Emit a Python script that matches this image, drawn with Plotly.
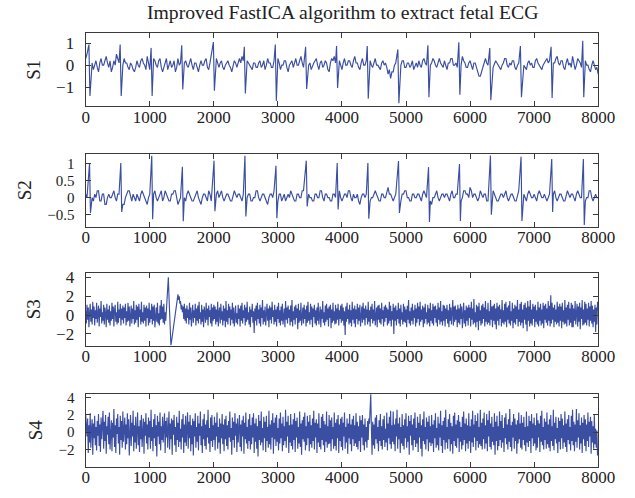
import numpy as np
import plotly.graph_objects as go

title_text = "Improved FastICA algorithm to extract fetal ECG"
x_ticks = [0, 1000, 2000, 3000, 4000, 5000, 6000, 7000, 8000]
labels = ["S1", "S2", "S3", "S4"]

# ---- S1: baseline sampled every 20 samples + QRS complexes ----
s1_base = [
    0.3, 0.5, 0.1, 0.2, 0.4, 0.1, -0.2, 0.0, 0.2, -0.1, -0.3, 0.1, 0.3, 0.0, 0.0, 0.2, 0.4, 0.1, -0.1, 0.2,
    -0.3, -0.1, 0.2, 0.0, 0.5, 0.3, 0.1, 0.4, -0.2, 0.0, 0.3, 0.1, 0.1, -0.1, -0.2, 0.1, 0.0, -0.2, -0.3, -0.1,
    0.2, 0.0, -0.1, 0.2, 0.3, 0.1, 0.0, -0.2, 0.4, 0.1, -0.2, 0.0, 0.5, 0.3, 0.2, 0.0, -0.1, 0.2, 0.3, -0.1,
    -0.3, -0.1, 0.1, 0.3, -0.2, 0.0, 0.2, -0.1, 0.0, 0.2, -0.3, -0.1, 0.3, 0.0, 0.1, 0.3, 0.4, 0.1, 0.2, 0.0,
    -0.1, 0.1, 0.3, 0.0, -0.2, 0.1, 0.1, -0.1, -0.3, 0.0, 0.2, 0.0, 0.0, 0.2, 0.3, -0.1, -0.2, 0.1, 0.4, 0.2,
    0.2, 0.0, 0.3, 0.1, -0.1, 0.1, 0.2, -0.1, -0.2, 0.0, 0.1, 0.2, 0.0, -0.1, -0.3, 0.0, 0.2, 0.1, -0.1, 0.1,
    0.3, 0.1, 0.4, 0.2, -0.2, 0.0, 0.2, 0.1, 0.0, -0.1, -0.2, 0.1, 0.1, -0.1, -0.1, 0.1, 0.2, -0.1, 0.0, 0.2,
    -0.2, 0.0, 0.3, 0.1, 0.1, -0.1, -0.1, 0.2, 0.2, 0.0, 0.3, 0.1, -0.2, 0.0, 0.0, 0.2, 0.2, -0.1, -0.3, 0.0,
    0.1, 0.2, -0.1, 0.1, 0.3, 0.0, 0.0, 0.2, 0.4, 0.1, -0.1, 0.1, 0.2, -0.1, 0.0, 0.1, -0.2, 0.0, 0.1, 0.2,
    0.3, 0.0, -0.2, 0.1, 0.2, -0.1, 0.0, 0.2, 0.1, -0.2, -0.3, 0.1, 0.3, 0.2, 0.4, 0.1, -0.1, 0.1, 0.2, 0.0,
    -0.2, 0.1, 0.3, 0.0, 0.0, 0.2, 0.2, 0.0, -0.1, 0.2, 0.4, 0.1, 0.1, -0.1, -0.2, 0.1, 0.3, 0.0, 0.0, 0.2,
    0.3, 0.1, 0.2, 0.0, -0.1, 0.1, 0.3, 0.0, 0.0, -0.1, -0.2, 0.1, 0.2, 0.0, 0.1, -0.1, -0.4, -0.2, -0.6, -0.3,
    -0.3, 0.0, 0.1, 0.2, 0.3, 0.1, 0.0, 0.2, 0.2, -0.1, -0.1, 0.1, 0.1, -0.1, 0.0, 0.2, -0.2, 0.0, 0.1, -0.1,
    0.2, 0.0, -0.1, 0.2, 0.3, 0.1, 0.0, -0.2, -0.2, 0.0, 0.1, 0.3, 0.2, 0.0, -0.1, 0.1, 0.3, 0.1, 0.0, -0.1,
    0.2, 0.0, -0.2, 0.1, 0.1, 0.3, 0.3, 0.0, 0.0, 0.1, -0.1, 0.2, 0.2, 0.0, 0.4, 0.2, 0.1, -0.1, -0.1, 0.1,
    0.2, 0.0, -0.2, 0.1, 0.1, -0.1, -0.3, -0.5, -0.5, -0.3, -0.2, 0.1, 0.3, 0.1, 0.0, 0.2, 0.4, 0.1, -0.1, 0.1,
    0.2, 0.1, 0.0, -0.1, -0.2, 0.0, 0.1, 0.3, 0.3, 0.0, -0.1, 0.1, 0.0, 0.2, 0.2, -0.1, -0.2, 0.0, 0.1, 0.2,
    0.3, 0.1, 0.0, -0.1, -0.2, 0.1, 0.2, 0.0, 0.1, -0.1, -0.1, 0.2, 0.3, 0.1, 0.0, -0.1, -0.2, 0.0, 0.1, 0.2,
    0.3, 0.1, 0.2, 0.0, -0.1, 0.1, 0.1, 0.3, 0.4, 0.1, 0.0, 0.2, 0.2, -0.1, -0.2, 0.1, 0.3, 0.0, 0.1, -0.1,
    0.4, 0.1, -0.2, 0.0, 0.3, 0.2, 0.1, -0.1, -0.1, 0.1, 0.2, 0.0, 0.0, -0.2, -0.3, 0.0, 0.2, 0.0, -0.2, -0.1,
    -0.4,
]
beat_pos = [60, 548, 1031, 1509, 2003, 2486, 2970, 3443, 3926,
            4405, 4883, 5352, 5835, 6318, 6796, 7275, 7769]
s1_peak_up = [0.93, 0.93, 0.78, 0.90, 1.04, 0.83, 0.93, 0.83, 0.86,
              0.86, 0.71, 0.90, 1.03, 0.77, 0.86, 0.83, 1.10]
s1_peak_down = [-1.39, -1.39, -1.39, -1.10, -1.15, -1.28, -1.62, -1.07, -1.03,
                -1.51, -1.72, -1.45, -1.33, -1.58, -1.45, -1.48, -1.45]

# ---- S2: baseline every 20 samples + fetal R peaks ----
s2_base = [
    0.1, 0.0, -0.2, 0.1, 0.2, 0.0, -0.1, 0.1, 0.0, 0.2, 0.2, -0.1, -0.1, 0.1, 0.1, -0.2, -0.2, 0.0, 0.1, 0.0,
    0.0, 0.1, 0.2, 0.0, -0.1, 0.1, 0.1, 0.0, 0.0, -0.2, -0.2, 0.0, 0.1, 0.2, 0.2, 0.0, -0.1, 0.1, 0.0, -0.1,
    0.1, 0.0, -0.1, 0.1, 0.2, 0.1, 0.0, -0.1, -0.2, 0.0, 0.1, 0.0, 0.0, 0.1, 0.2, 0.0, -0.1, 0.0, 0.1, 0.2,
    -0.1, 0.0, 0.2, 0.1, 0.0, -0.1, -0.1, 0.1, 0.1, 0.2, 0.2, 0.0, -0.2, -0.1, 0.0, 0.1, 0.1, 0.0, -0.1, 0.1,
    0.2, 0.1, 0.0, -0.1, -0.1, 0.0, 0.1, 0.2, 0.0, -0.1, -0.2, 0.0, 0.1, 0.1, 0.0, -0.1, 0.2, 0.1, -0.1, 0.0,
    -0.2, 0.0, 0.1, 0.2, 0.0, 0.1, 0.2, 0.0, -0.1, 0.0, 0.1, 0.1, 0.0, -0.1, -0.1, 0.1, 0.2, 0.1, 0.0, 0.1,
    0.1, 0.0, -0.1, 0.1, 0.2, 0.0, 0.0, 0.1, 0.1, -0.1, -0.1, 0.0, 0.0, 0.2, 0.2, 0.0, -0.1, 0.0, 0.1, 0.1,
    0.0, -0.1, -0.2, 0.0, 0.1, 0.1, 0.0, 0.2, 0.2, 0.0, -0.1, 0.1, 0.1, -0.1, 0.0, 0.1, -0.1, 0.0, 0.1, 0.0,
    0.2, 0.1, 0.0, -0.1, -0.1, 0.1, 0.1, 0.0, 0.0, 0.2, 0.2, -0.1, -0.2, 0.0, 0.1, 0.0, 0.0, -0.1, -0.1, 0.1,
    0.1, 0.0, 0.0, 0.2, 0.2, 0.0, -0.1, 0.1, 0.1, 0.0, 0.0, -0.1, -0.1, 0.1, 0.1, 0.0, 0.0, 0.1, 0.2, 0.0,
    -0.1, 0.0, 0.1, 0.1, 0.0, 0.2, 0.2, 0.0, -0.1, 0.1, 0.0, 0.0, 0.1, -0.1, -0.2, 0.0, 0.1, 0.1, 0.0, 0.1,
    0.1, 0.0, -0.1, 0.0, 0.0, 0.1, 0.2, 0.1, 0.0, -0.1, -0.1, 0.1, 0.1, 0.0, 0.0, 0.2, 0.3, 0.1, 0.1, 0.0,
    -0.1, 0.0, 0.1, 0.1, 0.0, -0.1, -0.1, 0.1, 0.1, 0.2, 0.2, 0.0, 0.0, -0.1, -0.1, 0.1, 0.1, 0.0, 0.0, 0.1,
    0.1, 0.0, -0.1, 0.1, 0.2, 0.1, 0.0, 0.1, 0.1, -0.1, -0.2, 0.0, 0.0, 0.1, 0.2, 0.0, -0.1, 0.0, 0.1, 0.1,
    0.0, 0.1, 0.1, 0.0, -0.1, 0.1, 0.2, 0.0, 0.0, 0.1, 0.1, 0.0, -0.1, -0.1, 0.0, 0.2, 0.2, 0.1, 0.1, 0.0,
    0.3, 0.2, 0.0, 0.1, 0.1, 0.0, -0.1, 0.0, 0.2, 0.1, 0.0, 0.1, 0.1, -0.1, -0.1, 0.0, 0.0, 0.1, 0.2, 0.1,
    0.0, -0.1, -0.1, 0.0, 0.1, 0.1, 0.0, 0.1, 0.2, 0.0, -0.1, 0.0, 0.1, 0.1, 0.0, -0.1, -0.1, 0.1, 0.2, 0.1,
    0.0, 0.1, 0.1, 0.0, -0.1, 0.1, 0.2, 0.1, 0.0, 0.0, 0.1, 0.0, -0.1, 0.1, 0.2, 0.1, 0.0, 0.0, 0.1, 0.0,
    -0.1, 0.0, 0.1, 0.1, 0.0, 0.1, 0.2, 0.0, -0.1, 0.0, 0.1, 0.1, 0.0, -0.1, -0.1, 0.1, 0.2, 0.1, 0.0, 0.1,
    0.1, 0.0, -0.1, 0.1, 0.2, 0.1, 0.0, 0.0, 0.1, 0.0, -0.1, 0.0, 0.0, 0.2, 0.2, 0.0, -0.1, 0.0, 0.1, 0.0,
    0.0,
]
s2_peak_up = [1.01, 1.01, 1.22, 0.90, 1.08, 1.22, 0.93, 1.08, 1.01,
              1.01, 1.07, 0.89, 0.98, 1.23, 1.19, 1.13, 1.13]
s2_peak_down = [-0.45, -0.42, -0.63, -0.69, -0.40, -0.55, -0.60, -0.26, -0.35,
                -0.62, -0.45, -0.71, -0.68, -0.50, -0.68, -0.42, -0.80]

# ---- S3: sampled every 10 samples ----
s3_vals = [
    0.4, -0.9, 1.1, -0.5, 0.8, -1.3, 0.2, 1.2, -0.7, 0.6, -1.0, 1.4, -0.3, 0.9, -1.1, 0.5, -0.4, 1.3, -0.8, 0.1,
    1.0, -1.2, 0.7, -0.2, 1.5, -0.9, 0.3, -0.6, 1.1, -1.0, 0.8, 0.2, -1.3, 1.2, -0.5, 0.6, -0.8, 1.0, -1.1, 0.4,
    -0.6, 1.3, -0.4, 0.9, -1.2, 0.5, 1.1, -0.7, 0.3, -1.0, 1.4, -0.8, 0.6, -0.3, 1.2, -1.1, 0.7, -0.5, 1.0, -0.9,
    0.8, -0.3, 1.2, -1.1, 0.4, -0.7, 1.3, -0.6, 0.9, -1.2, 0.2, 1.0, -0.9, 0.7, -0.4, 1.5, -1.0, 0.5, -0.8, 1.1,
    -0.5, 0.9, -1.3, 1.2, -0.2, 0.6, -1.0, 1.4, -0.7, 0.3, -0.9, 1.1, -0.6, 0.8, -1.2, 1.0, -0.3, 0.7, -1.1, 1.3,
    -0.8, 0.5, -0.4, 1.2, -1.0, 0.9, -0.6, 1.1, -1.3, 0.4, 0.8, -0.7, 1.3, -0.9, 0.2, -1.1, 1.0, -0.5, 1.6, -0.4,
    0.9, -0.8, 1.2, -1.0, 0.3, -0.6, 1.0, 2.0, 3.0, 4.0, 2.0, 0.0, -1.8, -3.2, -2.8, -2.3, -1.9, -1.4, -0.9, -0.5,
    0.2, 0.8, 1.4, 1.9, 2.2, 1.6, 2.0, 1.2, 1.5, 0.6, 1.1, 0.3, 0.9, -0.4, 1.2, -0.6, 0.7, -0.9, 1.0, -0.3,
    0.6, -1.0, 1.3, -0.5, 0.8, -1.2, 0.4, 1.1, -0.8, 0.5, -0.3, 1.2, -1.1, 0.7, -0.6, 1.0, -0.9, 1.4, -0.4, 0.3,
    -1.0, 1.1, -0.7, 0.6, -1.3, 0.9, 0.2, -0.8, 1.3, -0.5, 0.7, -1.1, 1.0, -0.2, 0.5, -0.9, 1.2, -1.2, 0.8, -0.6,
    1.1, -0.4, 0.9, -1.0, 0.6, -0.7, 1.4, -1.2, 0.3, 0.8, -0.9, 1.2, -0.5, 0.4, -1.1, 1.0, -0.6, 0.7, -1.3, 1.5,
    -0.7, 0.5, -1.0, 1.2, -0.3, 0.9, -1.1, 0.6, -0.5, 1.3, -0.9, 0.8, -1.2, 0.4, 1.0, -0.8, 0.2, -1.0, 1.1, -0.4,
    0.7, -1.2, 1.0, -0.6, 1.3, -0.9, 0.5, -0.3, 1.1, -1.1, 0.8, -0.7, 1.4, -0.5, 0.3, -1.0, 0.9, -1.3, 0.6, -0.2,
    1.2, -0.8, 0.4, -1.9, 0.7, -0.6, 1.0, -1.1, 1.3, -0.4, 0.6, -0.9, 1.1, -1.2, 0.8, -0.3, 1.6, -1.0, 0.5, -0.7,
    0.9, -1.1, 0.3, 1.2, -0.6, 0.7, -1.3, 1.0, -0.5, 0.8, -0.9, 1.4, -0.2, 0.5, -1.0, 1.1, -0.7, 0.6, -1.2, 0.9,
    -0.4, 1.3, -0.8, 0.5, -1.1, 0.9, -0.6, 1.2, -1.0, 0.4, 0.7, -1.3, 1.5, -0.5, 0.8, -0.9, 1.0, -0.3, 0.6, -1.1,
    1.0, -0.7, 1.6, -1.2, 0.4, -0.5, 0.9, -1.0, 1.1, -0.3, 0.7, -1.5, 1.2, -0.8, 0.5, -0.6, 1.3, -1.1, 0.3, 0.8,
    -0.9, 1.1, -0.4, 0.6, -1.2, 1.0, -0.8, 1.4, -0.6, 0.3, -1.0, 1.2, -0.5, 0.9, -1.3, 0.7, -0.2, 1.1, -0.9, 0.5,
    -1.1, 0.8, -0.6, 1.3, -1.0, 0.4, 0.9, -1.3, 0.6, -0.4, 1.5, -0.8, 0.3, -1.1, 1.0, -0.7, 1.2, -0.5, 0.7, -1.2,
    0.9, -0.3, 1.1, -1.4, 0.6, -0.8, 1.3, -0.6, 0.4, -1.0, 1.1, -0.9, 0.7, -0.5, 1.2, -1.1, 0.5, -0.4, 1.0, -0.8,
    1.2, -0.6, 0.8, -1.1, 0.4, -2.1, 0.9, -0.7, 1.3, -0.4, 0.6, -1.0, 1.1, -0.8, 0.5, -1.2, 1.4, -0.5, 0.7, -0.9,
    1.0, -1.3, 0.6, -0.4, 1.2, -1.0, 0.8, -0.6, 1.1, -1.2, 0.3, 0.9, -0.8, 1.3, -0.5, 0.7, -1.1, 1.0, -0.3, 0.6,
    -1.0, 1.4, -0.7, 0.5, -1.2, 0.9, -0.4, 1.2, -0.9, 0.6, -0.6, 1.5, -1.1, 0.4, 0.8, -1.3, 1.0, -0.5, 1.1, -0.8,
    0.7, -1.0, 1.3, -0.4, 0.5, -1.2, 0.9, -0.7, 1.1, -0.3, 0.8, -1.1, 0.6, -0.9, 1.4, -0.6, 1.0, -1.2, 0.4, -0.5,
    1.2, -2.0, 0.8, -0.6, 1.0, -1.1, 0.5, -0.4, 1.3, -0.9, 0.7, -1.2, 1.1, -0.5, 0.3, -1.0, 1.2, -0.7, 0.9, -0.8,
    0.6, -1.3, 1.0, -0.5, 1.6, -0.9, 0.4, -1.1, 0.8, -0.6, 1.2, -1.0, 0.5, -0.3, 1.1, -1.2, 0.7, -0.8, 1.3, -0.4,
    0.9, -1.1, 1.4, -0.7, 0.6, -0.5, 1.0, -1.3, 0.8, -0.9, 1.2, -0.4, 0.3, -1.0, 1.1, -0.8, 0.7, -1.2, 1.3, -0.6,
    0.5, -0.9, 1.2, -1.1, 0.9, -0.3, 1.0, -0.8, 0.6, -1.2, 1.3, -0.5, 0.8, -1.0, 1.5, -0.7, 0.4, -1.1, 1.1, -0.6,
    1.0, -1.2, 0.7, -0.4, 1.1, -0.9, 0.5, -1.3, 1.2, -0.6, 0.8, -1.0, 0.3, 1.6, -1.1, 0.9, -0.7, 1.0, -0.5, 0.6,
    -1.3, 1.1, -0.8, 0.7, -1.0, 1.2, -0.4, 0.9, -1.4, 0.6, 1.3, -0.9, 0.5, -1.2, 1.0, -0.6, 0.8, -1.1, 1.1, -0.3,
    0.8, -1.2, 1.4, -0.5, 0.7, -1.0, 1.7, -0.8, 0.3, -1.3, 1.1, -0.7, 0.9, -1.6, 1.3, -0.6, 0.5, -1.1, 1.0, -0.9,
    1.2, -0.4, 0.8, -1.2, 1.5, -0.7, 0.6, -1.0, 1.3, -0.8, 0.4, -1.1, 1.6, -0.5, 0.9, -1.3, 1.0, -0.6, 1.2, -1.0,
    0.7, -1.5, 1.3, -0.6, 0.9, -1.1, 1.1, -0.4, 0.6, -1.2, 1.6, -0.8, 0.5, -1.0, 1.2, -0.7, 1.4, -1.3, 0.8, -0.5,
    1.0, -0.9, 1.5, -1.1, 0.4, -0.6, 1.3, -1.4, 0.7, -0.8, 1.1, -1.0, 0.9, -0.4, 1.6, -1.2, 0.6, -0.7, 1.2, -1.1,
    1.4, -0.8, 0.6, -1.4, 1.1, -0.5, 1.3, -1.0, 0.8, -1.7, 1.5, -0.6, 0.9, -1.2, 1.6, -0.9, 0.6, -1.1, 1.2, -0.4,
    0.9, -1.3, 1.1, -0.7, 0.5, -1.0, 1.4, -1.2, 0.8, -0.6, 1.2, -1.1, 0.6, -0.9, 1.3, -1.4, 1.0, -0.5, 1.2, -0.8,
    0.7, -1.1, 1.5, -0.6, 1.0, -1.2, 2.1, -0.9, 1.3, -0.5, 0.8, -1.3, 1.1, -0.7, 0.6, -1.0, 1.4, -0.8, 0.9, -1.2,
    1.2, -0.6, 0.9, -1.4, 1.3, -0.7, 0.5, -1.0, 1.6, -0.9, 0.8, -1.2, 1.1, -0.5, 1.4, -1.1, 0.7, -0.8, 1.3, -1.3,
    1.1, -1.3, 0.7, -0.6, 1.5, -1.0, 0.4, 1.2, -1.2, 0.9, -0.7, 1.3, -1.5, 0.8, -0.4, 1.6, -1.1, 0.6, -1.0, 1.4,
    -0.8, 1.2, -1.1, 0.7, -0.5, 1.3, -1.2, 0.9, -0.6, 1.5, -0.9, 1.0, -1.3, 0.6, -0.7, 1.1, -1.8, 0.8, -1.0, 1.4,
    0.5,
]

# ---- S4: sampled every 10 samples ----
s4_vals = [
    2.0, 1.2, -0.5, 1.6, -2.4, 0.8, -1.2, 2.2, -1.8, 0.3, 1.5, -2.6, 1.0, -0.7, 1.9, -1.5, 0.6, -2.1, 1.3, -0.4,
    2.1, -1.6, 0.9, -2.3, 1.7, -0.8, 0.4, 2.5, -1.9, 1.2, -1.0, 2.0, -2.5, 0.7, -0.3, 1.8, -1.4, 2.3, -2.0, 0.5,
    1.4, -2.2, 1.1, -0.6, 2.7, -1.7, 0.8, -2.4, 1.6, -0.2, 2.1, -1.3, 0.6, -2.6, 1.9, -0.9, 1.3, -1.8, 2.4, -1.1,
    0.4, 1.7, -2.0, 0.9, -1.4, 2.2, -0.7, 1.5, -2.7, 0.3, 2.0, -1.6, 1.1, -0.5, 2.5, -2.2, 0.8, -1.2, 1.8, -1.9,
    0.6, 2.3, -1.5, 0.7, -2.3, 1.4, -0.8, 2.0, -1.7, 0.5, 1.6, -2.5, 1.2, -0.4, 2.2, -1.3, 0.9, -2.0, 1.7, -0.6,
    1.3, -1.9, 2.6, -1.0, 0.6, -2.2, 1.5, -0.7, 2.1, -1.6, 0.8, -2.8, 1.9, -0.5, 1.2, -1.4, 2.3, -2.1, 0.7, -0.9,
    1.8, -1.2, 0.5, 2.2, -2.4, 1.3, -0.6, 1.7, -1.8, 0.9, 2.4, -2.0, 1.0, -0.8, 1.6, -2.6, 1.4, -0.3, 2.0, -1.5,
    0.6, -2.3, 1.8, -0.9, 1.1, -1.7, 2.5, -1.1, 0.4, -2.0, 1.5, -0.6, 2.1, -2.4, 0.9, -1.2, 1.9, -1.6, 0.7, 2.3,
    -1.9, 1.2, -0.7, 2.0, -2.2, 0.8, -1.4, 1.6, -2.7, 1.3, -0.5, 2.2, -1.8, 0.6, -1.1, 1.9, -2.1, 1.0, -0.4, 2.4,
    -1.5, 0.7, -2.4, 1.5, -0.8, 2.1, -1.6, 0.9, -2.0, 1.4, -0.6, 2.6, -1.3, 0.5, -2.3, 1.7, -1.0, 2.0, -1.7, 0.8,
    -0.9, 1.8, -2.1, 1.1, -0.5, 2.3, -1.9, 0.6, -1.2, 1.6, -2.5, 1.0, -0.7, 2.1, -1.4, 0.9, -2.2, 1.5, -0.8, 1.9,
    -1.6, 0.8, -2.0, 1.3, -0.6, 2.4, -1.1, 0.5, -2.6, 1.7, -0.9, 1.2, -1.8, 2.2, -0.4, 1.0, -2.3, 1.6, -1.2, 0.7,
    2.0, -1.7, 0.9, -2.2, 1.4, -0.5, 1.9, -2.5, 1.1, -0.8, 2.3, -1.3, 0.6, -1.9, 1.5, -1.0, 2.1, -2.0, 0.8, -1.4,
    1.7, -0.6, 2.2, -2.4, 1.0, -1.1, 1.6, -1.9, 0.7, -2.8, 2.0, -0.9, 1.3, -1.5, 2.4, -1.2, 0.5, -2.1, 1.8, -0.7,
    1.2, -2.3, 1.9, -1.0, 0.6, -1.8, 2.5, -1.4, 0.9, -2.0, 1.4, -0.6, 2.2, -2.5, 1.1, -0.8, 1.7, -1.6, 2.0, -1.1,
    0.5, -2.1, 1.6, -1.3, 2.3, -0.7, 1.0, -2.2, 1.8, -1.5, 0.7, -1.0, 2.6, -1.8, 1.2, -0.5, 1.9, -2.4, 0.8, -1.2,
    2.1, -1.6, 0.9, -2.0, 1.5, -0.9, 2.2, -2.3, 1.3, -0.6, 1.7, -1.9, 0.6, -1.3, 2.4, -1.7, 1.0, -2.6, 1.4, -0.8,
    1.8, -1.1, 2.3, -2.1, 0.7, -1.5, 1.9, -0.7, 1.2, -2.2, 2.0, -1.4, 0.8, -1.8, 1.6, -1.0, 2.5, -2.0, 1.1, -0.6,
    1.5, -2.4, 1.0, -1.2, 2.2, -1.7, 0.5, -2.0, 1.8, -0.9, 2.1, -1.5, 1.3, -2.3, 0.9, -1.1, 2.4, -1.8, 0.7, -1.4,
    2.0, -1.3, 1.4, -2.2, 1.7, -0.8, 0.6, -1.9, 2.3, -1.6, 1.1, -2.1, 1.5, -0.7, 2.0, -2.4, 0.9, -1.0, 1.6, -1.7,
    1.8, -2.1, 1.1, -0.5, 2.3, -1.9, 0.6, -1.2, 1.6, -2.5, 1.0, -0.7, 2.1, -1.4, 0.9, -2.2, 1.5, -0.8, 1.9, -1.6,
    0.8, -1.3, 2.2, -1.7, 1.2, -2.0, 0.7, -1.0, 1.9, -2.3, 1.4, -0.6, 2.0, -1.5, 0.9, -2.1, 1.6, -1.1, 0.6, -1.8,
    1.3, -0.9, 1.6, 1.0, 3.0, 4.4, 0.5, -2.6, 1.2, -1.5, 0.9, -1.9, 1.7, -0.8, 2.0, -1.3, 0.6, -2.2, 1.4, -1.0,
    2.1, -1.6, 0.7, -2.0, 1.5, -0.9, 1.9, -1.7, 0.4, -1.2, 2.3, -2.1, 1.0, -0.7, 1.8, -1.4, 2.5, -1.9, 0.8, -1.1,
    2.4, -1.4, 0.9, -2.2, 1.6, -0.5, 2.6, -1.9, 1.0, -0.8, 1.7, -2.4, 0.6, -1.3, 2.1, -1.6, 0.8, -2.0, 1.5, -0.7,
    2.2, -1.8, 0.7, -1.1, 1.9, -2.6, 1.3, -0.4, 2.0, -1.5, 0.9, -2.1, 1.6, -0.9, 2.3, -1.7, 0.5, -1.3, 1.8, -2.3,
    1.1, -0.6, 2.1, -1.9, 0.8, -2.8, 1.5, -1.0, 2.4, -1.4, 0.6, -2.0, 1.7, -0.8, 1.2, -2.2, 1.9, -1.2, 0.7, -1.6,
    2.0, -1.3, 0.9, -2.3, 1.4, -0.7, 2.2, -1.8, 0.5, -1.5, 1.8, -2.1, 1.0, -0.6, 2.5, -1.6, 0.8, -2.4, 1.3, -0.9,
    1.7, -2.0, 2.6, -1.2, 0.6, -1.9, 1.5, -0.8, 2.1, -2.2, 1.1, -1.4, 0.7, -2.5, 1.9, -1.0, 2.3, -1.6, 0.9, -1.8,
    1.4, -0.7, 2.0, -2.3, 1.2, -1.1, 0.6, -2.0, 1.8, -1.5, 2.4, -0.9, 1.0, -2.2, 1.6, -1.3, 0.8, -1.9, 2.2, -1.0,
    0.7, -2.4, 1.5, -1.2, 2.5, -1.7, 0.9, -0.6, 2.0, -2.1, 1.3, -1.0, 2.2, -1.8, 0.6, -1.4, 2.6, -1.6, 1.1, -2.0,
    1.6, -0.8, 2.3, -1.9, 0.8, -1.3, 2.1, -2.2, 1.4, -0.5, 2.5, -1.7, 1.0, -2.0, 1.8, -1.1, 0.6, -1.5, 2.2, -2.6,
    1.2, -1.0, 1.9, -2.1, 0.7, -1.6, 2.4, -0.9, 1.3, -1.8, 2.0, -1.2, 0.5, -2.3, 1.7, -0.7, 2.2, -1.4, 0.9, -2.0,
    1.5, -1.1, 2.7, -1.7, 0.8, -2.2, 1.2, -0.6, 2.1, -1.9, 1.6, -1.0, 0.9, -2.5, 1.4, -1.3, 2.3, -0.8, 1.0, -1.8,
    2.0, -2.0, 1.1, -0.9, 1.8, -1.5, 0.6, -2.2, 2.4, -1.2, 0.7, -1.7, 1.9, -1.0, 1.3, -2.4, 2.1, -0.7, 1.0, -1.6,
    1.7, -1.3, 0.8, -2.1, 2.2, -1.8, 1.4, -0.6, 1.0, -2.3, 1.9, -1.1, 2.5, -1.5, 0.6, -2.0, 1.6, -0.9, 1.2, -1.9,
    2.3, -1.4, 0.9, -1.8, 1.5, -2.2, 2.0, -1.0, 0.7, -1.6, 2.6, -2.1, 1.1, -0.8, 1.8, -1.3, 0.5, -2.4, 1.7, -1.1,
    1.3, -2.0, 2.1, -0.7, 1.6, -1.9, 0.8, -1.2, 2.4, -1.7, 1.0, -2.3, 1.5, -0.9, 2.0, -1.4, 0.6, -2.1, 1.9, -1.0,
    2.6, -1.5, 1.2, -2.2, 0.9, -1.1, 2.7, -1.8, 1.4, -0.6, 2.2, -2.0, 0.8, -1.3, 1.7, -2.4, 1.1, -0.8, 2.0, -1.6,
    1.5, -2.2, 0.9, -1.0, 2.3, -1.7, 1.2, -0.5, 1.8, -2.5, 1.3, -1.2, 0.7, -1.9, 2.0, -1.4, 0.4, -1.8, 0.2, -2.7,
    -2.0,
]

y_ranges = [[-1.85, 1.44], [-0.85, 1.28], [-3.25, 4.48], [-4.0, 4.45]]
y_ticks = [[-1, 0, 1], [-0.5, 0, 0.5, 1], [-2, 0, 2, 4], [-2, 0, 2, 4]]
y_ticktext = [["\u22121", "0", "1"], ["\u22120.5", "0", "0.5", "1"],
              ["\u22122", "0", "2", "4"], ["\u22122", "0", "2", "4"]]


def merge_beats(base, step, pos, up, down, up_off, down_off, gap):
    bx = np.arange(len(base)) * step
    by = np.array(base, dtype=float)
    keep = np.ones(len(bx), dtype=bool)
    for p in pos:
        keep &= ~((bx > p - gap) & (bx < p + gap))
    xs = list(bx[keep])
    ys = list(by[keep])
    for p, u, d in zip(pos, up, down):
        xs += [p + up_off, p + down_off]
        ys += [u, d]
    order = np.argsort(xs, kind="stable")
    return np.array(xs)[order], np.array(ys)[order]


s1_x, s1_y = merge_beats(s1_base, 20, beat_pos, s1_peak_up, s1_peak_down, -10, 6, 25)
s2_x, s2_y = merge_beats(s2_base, 20, beat_pos, s2_peak_up, s2_peak_down, 0, 14, 25)
s3_x = np.arange(len(s3_vals)) * 10
s4_x = np.arange(len(s4_vals)) * 10

series = [(s1_x, s1_y), (s2_x, s2_y), (s3_x, np.array(s3_vals)), (s4_x, np.array(s4_vals))]

H = 498.0
box_tops = [29.5, 151.0, 271.0, 393.0]
box_h = 73.5
x_dom = [84.5 / 635, 614.5 / 635]

line_color = "#3a4ea2"
axis_color = "#3a3a3a"
text_color = "#222222"
font_family = "Liberation Serif"
ytick_sizes = [17, 15, 17, 15]

fig = go.Figure()
layout = dict(
    width=635, height=498,
    margin=dict(l=0, r=0, t=0, b=0),
    paper_bgcolor="white", plot_bgcolor="white",
    showlegend=False,
    font=dict(family=font_family, size=17, color=text_color),
)
for i, (sx, sy) in enumerate(series):
    k = "" if i == 0 else str(i + 1)
    fig.add_trace(go.Scatter(x=sx, y=sy, mode="lines",
                             line=dict(color=line_color, width=1.15),
                             xaxis="x" + k, yaxis="y" + k, hoverinfo="skip"))
    top = box_tops[i]
    dom = [1 - (top + box_h) / H, 1 - top / H]
    layout["xaxis" + k] = dict(
        domain=x_dom, range=[0, 8000], anchor="y" + k,
        tickvals=x_ticks, ticktext=[str(v) for v in x_ticks],
        ticks="inside", ticklen=5, tickcolor=axis_color, tickwidth=1,
        showline=True, linecolor=axis_color, linewidth=1.3, mirror="ticks",
        showgrid=False, zeroline=False, ticklabelstandoff=-5,
        tickfont=dict(family=font_family, size=17, color=text_color),
    )
    layout["yaxis" + k] = dict(
        domain=dom, range=y_ranges[i], anchor="x" + k,
        tickvals=y_ticks[i], ticktext=y_ticktext[i],
        ticks="inside", ticklen=5, tickcolor=axis_color, tickwidth=1,
        showline=True, linecolor=axis_color, linewidth=1.3, mirror="ticks",
        showgrid=False, zeroline=False, ticklabelstandoff=7,
        tickfont=dict(family=font_family, size=ytick_sizes[i], color=text_color),
        title=dict(text=labels[i], standoff=10,
                   font=dict(family=font_family, size=19, color=text_color)),
    )

layout["annotations"] = [dict(
    text=title_text, x=350 / 635, y=1 - 8 / H, xref="paper", yref="paper",
    showarrow=False, xanchor="center", yanchor="middle",
    font=dict(family=font_family, size=19.7, color=text_color),
)]
fig.update_layout(**layout)
fig.write_html("out.html")
